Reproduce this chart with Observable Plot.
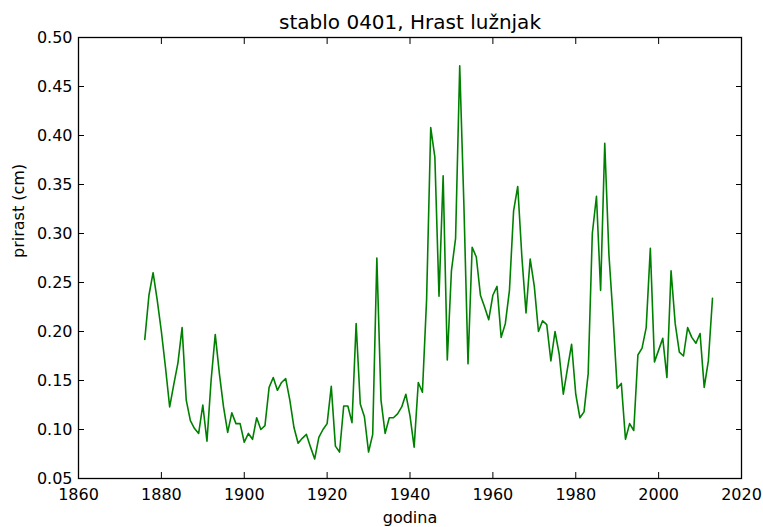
<!DOCTYPE html>
<html><head><meta charset="utf-8">
<script src="https://cdn.jsdelivr.net/npm/d3@7"></script>
<script src="https://cdn.jsdelivr.net/npm/@observablehq/plot@0.6"></script>
<style>body{margin:0;background:#fff}</style>
</head><body><div id="chart"></div>
<script>
const title = "stablo 0401, Hrast lužnjak";
const xLabel = "godina";
const yLabel = "prirast (cm)";
const startYear = 1876;
const prirast = [
  0.192, 0.237, 0.260, 0.232, 0.200, 0.163, 0.123, 0.146, 0.168, 0.204,
  0.130, 0.109, 0.101, 0.096, 0.125, 0.088, 0.150, 0.197, 0.157, 0.123,
  0.097, 0.117, 0.106, 0.106, 0.087, 0.096, 0.090, 0.112, 0.100, 0.104,
  0.143, 0.153, 0.140, 0.148, 0.152, 0.130, 0.102, 0.086, 0.091, 0.095,
  0.082, 0.070, 0.092, 0.100, 0.106, 0.144, 0.083, 0.077, 0.124, 0.124,
  0.107, 0.208, 0.126, 0.113, 0.077, 0.095, 0.275, 0.130, 0.096, 0.112,
  0.112, 0.116, 0.123, 0.136, 0.114, 0.082, 0.148, 0.138, 0.232, 0.408,
  0.378, 0.236, 0.359, 0.171, 0.262, 0.295, 0.471, 0.330, 0.167, 0.286,
  0.276, 0.237, 0.225, 0.212, 0.237, 0.246, 0.194, 0.208, 0.242, 0.323,
  0.348, 0.276, 0.219, 0.274, 0.246, 0.200, 0.211, 0.207, 0.170, 0.200,
  0.177, 0.136, 0.162, 0.187, 0.136, 0.112, 0.118, 0.157, 0.300, 0.338,
  0.242, 0.392, 0.279, 0.215, 0.142, 0.147, 0.090, 0.106, 0.099, 0.176,
  0.183, 0.204, 0.285, 0.169, 0.181, 0.193, 0.153, 0.262, 0.208, 0.179,
  0.175, 0.204, 0.194, 0.188, 0.198, 0.143, 0.170, 0.234
];
const xTicks = [1860, 1880, 1900, 1920, 1940, 1960, 1980, 2000, 2020];
const yTicks = [0.05, 0.10, 0.15, 0.20, 0.25, 0.30, 0.35, 0.40, 0.45, 0.50];

const data = prirast.map((v, i) => ({godina: startYear + i, prirast: v}));
const fmtY = d3.format(".2f");

const chart = Plot.plot({
  width: 763, height: 527,
  marginTop: 37, marginBottom: 49, marginLeft: 78, marginRight: 22,
  style: {fontFamily: "DejaVu Sans", fontSize: "16px", background: "white", color: "black"},
  x: {domain: [1860, 2020]},
  y: {domain: [0.05, 0.5]},
  marks: [
    Plot.lineY(data, {x: "godina", y: "prirast", stroke: "#008000", strokeWidth: 1.6}),
    Plot.frame({stroke: "black", strokeWidth: 1.3}),
    Plot.axisX(xTicks, {anchor: "bottom", tickSize: -6, tickPadding: 16, label: null, tickFormat: d => String(d), fontSize: 16}),
    Plot.axisX(xTicks, {anchor: "top", tickSize: -6, label: null, tickFormat: () => ""}),
    Plot.axisY(yTicks, {anchor: "left", tickSize: -6, tickPadding: 12, label: null, tickFormat: fmtY, fontSize: 16}),
    Plot.axisY(yTicks, {anchor: "right", tickSize: -6, label: null, tickFormat: () => ""}),
    Plot.text([title], {frameAnchor: "top", lineAnchor: "middle", dy: -15, text: d => d, fontSize: 20}),
    Plot.text([xLabel], {frameAnchor: "bottom", lineAnchor: "middle", dy: 39, text: d => d, fontSize: 16}),
    Plot.text([yLabel], {frameAnchor: "left", lineAnchor: "middle", dx: -60, rotate: -90, text: d => d, fontSize: 16})
  ]
});
document.getElementById("chart").appendChild(chart);
</script>
</body></html>
